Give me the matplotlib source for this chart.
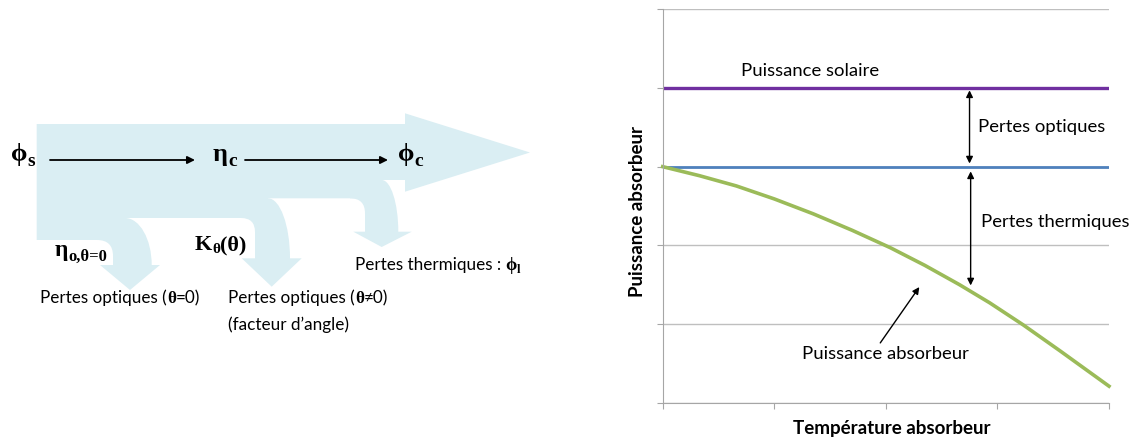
import matplotlib
import matplotlib.pyplot as plt
from matplotlib.path import Path
from matplotlib import patches

matplotlib.use('Agg')

plt.rcParams['font.family'] = ['Lato', 'DejaVu Sans']

# courbe : puissance absorbeur en fonction de la temperature
temperature = [0, 0.33, 0.66, 1.0, 1.35, 1.7, 2.04, 2.35, 2.66, 2.93, 3.23, 3.56, 4.0]
p_absorbeur = [3.0, 2.885, 2.755, 2.59, 2.40, 2.19, 1.97, 1.745, 1.50, 1.27, 0.99, 0.66, 0.21]
p_solaire = 4.0
p_optique = 3.0
x_ticks = [0, 1, 2, 3, 4]
y_ticks = [0, 1, 2, 3, 4, 5]

# schema : fleche principale + 3 fleches de pertes (pixels)
corps = [(36.7, 124), (405, 124), (405, 113.3), (530, 152.5), (405, 191.7), (405, 180),
         (381.7, 180), (381.7, 198.3), (268, 198.3), (268, 218), (125, 218), (125, 240),
         (36.7, 240)]
# xi0, xo0, xi1, xo1, ytop, ybot, yhead, hl, hr, xtip, ytip
pertes = [
    (97, 125, 113, 151.7, 218, 240, 265, 100, 160, 130, 290),
    (241, 268, 255, 290, 198.3, 218, 258.3, 241.7, 301.7, 271.7, 286.7),
    (350, 381.7, 365, 398.3, 180, 198.3, 231.7, 353.3, 411.7, 381.7, 247),
]
bleu_clair = '#DAEEF3'
serif = 'Liberation Serif'
sans = ['Lato', 'DejaVu Sans']

W, H = 1132, 441
fig = plt.figure(figsize=(W / 100, H / 100), dpi=100)
renderer = fig.canvas.get_renderer()

ax0 = fig.add_axes([0, 0, 1, 1])
ax0.set_xlim(0, W)
ax0.set_ylim(H, 0)
ax0.axis('off')

ax0.add_patch(patches.Polygon(corps, closed=True, facecolor=bleu_clair, edgecolor='none'))

for xi0, xo0, xi1, xo1, ytop, ybot, yhead, hl, hr, xt, yt in pertes:
    rx = xo1 - xo0
    ry = yhead - ytop
    r = xi1 - xi0
    verts = [(xi0, ytop), (xo0, ytop),
             (xo0 + 0.55 * rx, ytop), (xo1, yhead - 0.55 * ry), (xo1, yhead),
             (hr, yhead), (xt, yt), (hl, yhead), (xi1, yhead),
             (xi1, ybot + r), (xi1, ybot), (xi1 - r, ybot),
             (xi0, ybot), (xi0, ytop)]
    codes = [Path.MOVETO, Path.LINETO,
             Path.CURVE4, Path.CURVE4, Path.CURVE4,
             Path.LINETO, Path.LINETO, Path.LINETO, Path.LINETO,
             Path.LINETO, Path.CURVE3, Path.CURVE3,
             Path.LINETO, Path.CLOSEPOLY]
    ax0.add_patch(patches.PathPatch(Path(verts, codes), facecolor=bleu_clair, edgecolor='none'))

fl = dict(arrowstyle='-|>', color='black', lw=1.3, mutation_scale=11, shrinkA=0, shrinkB=0)
ax0.annotate('', xy=(195, 160), xytext=(50, 160), arrowprops=fl)
ax0.annotate('', xy=(388, 160), xytext=(245, 160), arrowprops=fl)


def ecrire(x, y, morceaux):
    # morceaux : (texte, taille, famille, graisse, decalage vertical)
    for s, taille, famille, poids, dy in morceaux:
        t = ax0.text(x, y + dy, s, fontsize=taille, family=famille, weight=poids,
                     ha='left', va='baseline')
        x += t.get_window_extent(renderer).width


ecrire(11, 161, [('ϕ', 19, serif, 'bold', 0), ('s', 14, serif, 'bold', 5)])
ecrire(213, 161, [('η', 19, serif, 'bold', 0), ('c', 14, serif, 'bold', 5)])
ecrire(398, 161, [('ϕ', 19, serif, 'bold', 0), ('c', 14, serif, 'bold', 5)])
ecrire(55, 256, [('η', 17, serif, 'bold', 0), ('o,θ=0', 12, serif, 'bold', 5)])
ecrire(195, 250, [('K', 16, serif, 'bold', 0), ('θ', 11, serif, 'bold', 3),
                  ('(θ)', 16, serif, 'bold', 0)])
ecrire(355, 270, [('Pertes thermiques : ', 12.3, sans, 'normal', 0),
                  ('ϕ', 13, serif, 'bold', 0), ('l', 9, serif, 'bold', 3)])
ecrire(40, 303, [('Pertes optiques (', 12.3, sans, 'normal', 0),
                 ('θ', 12.3, serif, 'bold', 0), ('=0)', 12.3, sans, 'normal', 0)])
ecrire(228, 303, [('Pertes optiques (', 12.3, sans, 'normal', 0),
                  ('θ', 12.3, serif, 'bold', 0), ('≠0)', 12.3, sans, 'normal', 0)])
ecrire(228, 330, [('(facteur d’angle)', 12.3, sans, 'normal', 0)])

# graphique de droite
ax = fig.add_axes([662.7 / W, 1 - 402.7 / H, 446.3 / W, 393.4 / H])
ax.set_xlim(0, 4)
ax.set_ylim(0, 5)
ax.set_xticks(x_ticks)
ax.set_yticks(y_ticks)
ax.set_xticklabels([])
ax.set_yticklabels([])
ax.grid(axis='y', color='#BFBFBF', lw=1)
ax.set_axisbelow(True)
for s in ['top', 'right']:
    ax.spines[s].set_visible(False)
for s in ['left', 'bottom']:
    ax.spines[s].set_color('#A6A6A6')
ax.tick_params(length=4, color='#A6A6A6', direction='out')

ax.axhline(p_solaire, color='#7030A0', lw=2.4)
ax.axhline(p_optique, color='#4F81BD', lw=2.0)
ax.plot(temperature, p_absorbeur, color='#9BBB59', lw=2.6, clip_on=False)

dbl = dict(arrowstyle='<|-|>', color='black', lw=1.0, mutation_scale=10, shrinkA=0, shrinkB=0)
ax.annotate('', xy=(2.75, 3.97), xytext=(2.75, 3.04), arrowprops=dbl)
ax.annotate('', xy=(2.76, 2.94), xytext=(2.76, 1.49), arrowprops=dbl)
ax.annotate('', xy=(2.30, 1.47), xytext=(1.95, 0.76),
            arrowprops=dict(arrowstyle='-|>', color='black', lw=1.0, mutation_scale=10,
                            shrinkA=0, shrinkB=0))

ax.text(1.32, 4.21, 'Puissance solaire', fontsize=13.3, ha='center', va='center')
ax.text(2.83, 3.5, 'Pertes optiques', fontsize=13.3, ha='left', va='center')
ax.text(2.85, 2.3, 'Pertes thermiques', fontsize=13.3, ha='left', va='center')
ax.text(2.0, 0.62, 'Puissance absorbeur', fontsize=13.3, ha='center', va='center')

ax.set_ylabel('Puissance absorbeur', fontsize=13.5, fontweight='bold')
ax.yaxis.set_label_coords(-0.037, 0.485)
ax.set_xlabel('Température absorbeur', fontsize=13.5, fontweight='bold')
ax.xaxis.set_label_coords(0.513, -0.044)

fig.savefig('out.png', dpi=100)
